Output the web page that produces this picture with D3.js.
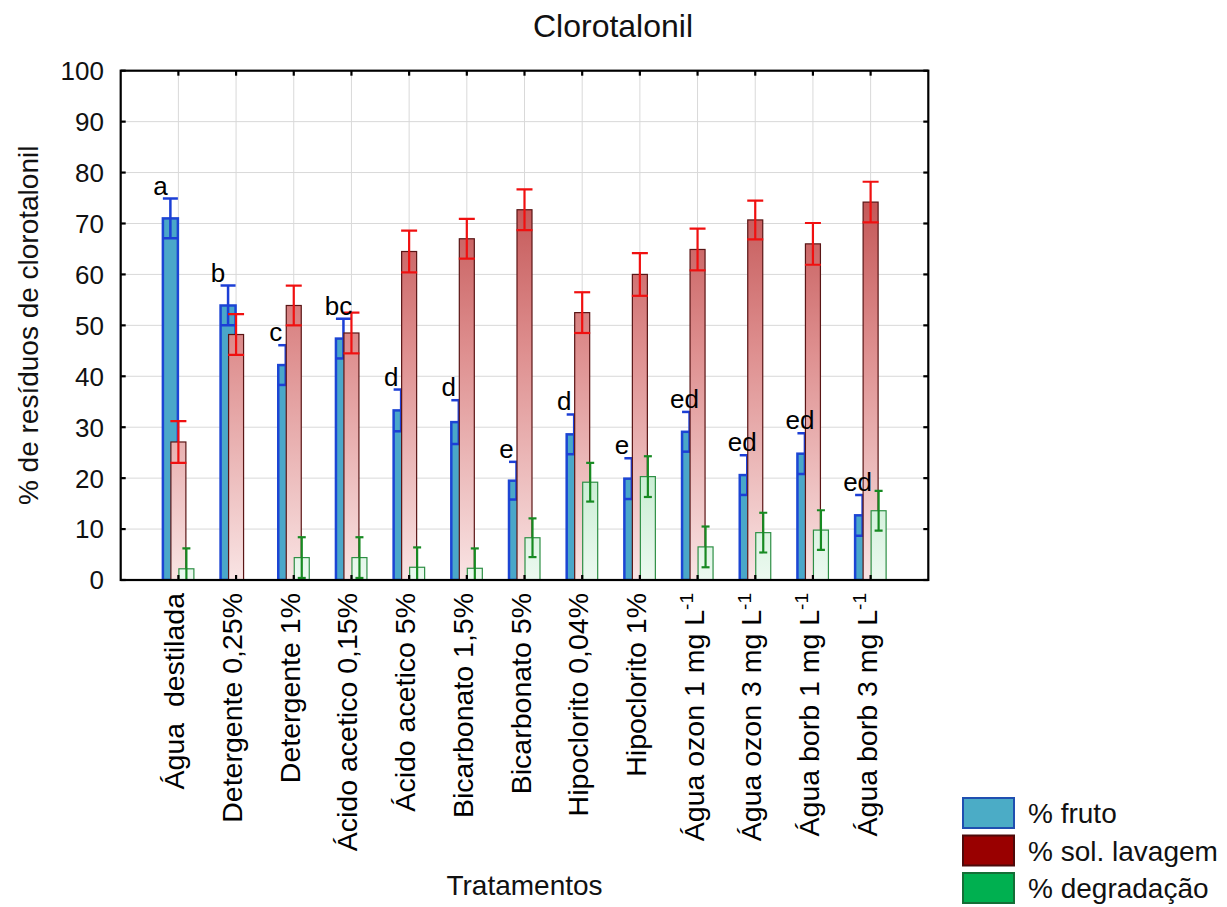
<!DOCTYPE html>
<html>
<head>
<meta charset="utf-8">
<script src="https://cdn.jsdelivr.net/npm/d3@7"></script>
<style>
  html, body { margin: 0; padding: 0; background: #fff; }
  svg { display: block; font-family: "Liberation Sans", Arial, sans-serif; }
</style>
</head>
<body>
<svg id="chart" width="1227" height="907"></svg>
<script>
// Treatments (x categories)
const categories = [
  "Água  destilada", "Detergente 0,25%", "Detergente 1%", "Ácido acetico 0,15%",
  "Ácido acetico 5%", "Bicarbonato 1,5%", "Bicarbonato 5%", "Hipoclorito 0,04%",
  "Hipoclorito 1%", "Água ozon 1 mg L-1", "Água ozon 3 mg L-1",
  "Água borb 1 mg L-1", "Água borb 3 mg L-1"
];

// % fruto
const frutoValues = [71.0, 53.9, 42.2, 47.4, 33.3, 31.0, 19.5, 28.6, 19.9, 29.1, 20.6, 24.8, 12.7];
const frutoErr    = [3.9, 3.9, 3.9, 3.9, 4.1, 4.3, 3.7, 3.9, 4.0, 3.9, 3.9, 4.0, 4.0];

// % sol. lavagem
const lavagemValues = [27.1, 48.2, 53.9, 48.5, 64.5, 67.0, 72.7, 52.5, 60.0, 64.9, 70.7, 66.0, 74.2];
const lavagemErr    = [4.1, 4.0, 3.9, 4.0, 4.1, 3.9, 4.0, 4.0, 4.2, 4.1, 3.8, 4.1, 4.0];

// % degradação
const degradValues = [2.2, 0, 4.4, 4.4, 2.5, 2.3, 8.3, 19.2, 20.3, 6.5, 9.3, 9.8, 13.6];
const degradErr    = [4.0, 0, 4.0, 4.0, 3.9, 3.9, 3.8, 3.8, 4.0, 4.0, 3.9, 3.9, 3.9];

// Significance letters for % fruto
const frutoLetters = ["a", "b", "c", "bc", "d", "d", "e", "d", "e", "ed", "ed", "ed", "ed"];

const seriesNames = ["% fruto", "% sol. lavagem", "% degradação"];
const yTicks = [0, 10, 20, 30, 40, 50, 60, 70, 80, 90, 100];

const svg = d3.select("#chart");
const plot = { left: 120.7, right: 928.3, top: 70.7, bottom: 580 };

const x = d3.scaleBand().domain(categories)
  .range([plot.left, plot.right]).paddingInner(0).paddingOuter(0.5);
const sub = d3.scalePoint().domain(seriesNames).range([-8, 8]);
const y = d3.scaleLinear().domain([0, 100]).range([plot.bottom, plot.top]);
const barW = 15;
const cx = c => x(c) + x.bandwidth() / 2;

// gradients anchored to the value axis
const defs = svg.append("defs");
function vGrad(id, stops) {
  const g = defs.append("linearGradient").attr("id", id)
    .attr("gradientUnits", "userSpaceOnUse")
    .attr("x1", 0).attr("x2", 0).attr("y1", y(0)).attr("y2", y(100));
  stops.forEach(s => g.append("stop").attr("offset", s[0]).attr("stop-color", s[1]));
}
vGrad("gradRed", [[0, "#f9e4e4"], [0.45, "#de8f8f"], [0.8, "#bf4d4d"], [1, "#a83030"]]);
vGrad("gradGreen", [[0, "#ecf9f0"], [0.25, "#c2ebcd"], [1, "#4cc479"]]);

// gridlines
const grid = svg.append("g");
grid.selectAll("line.h").data(yTicks.filter(t => t > 0 && t < 100)).join("line")
  .attr("x1", plot.left).attr("x2", plot.right)
  .attr("y1", d => y(d)).attr("y2", d => y(d))
  .attr("stroke", "#d9d9d9").attr("stroke-width", 1);
grid.selectAll("line.v").data(categories).join("line")
  .attr("x1", d => cx(d)).attr("x2", d => cx(d))
  .attr("y1", plot.top).attr("y2", plot.bottom)
  .attr("stroke", "#d9d9d9").attr("stroke-width", 1);

const clip = defs.append("clipPath").attr("id", "plotClip");
clip.append("rect").attr("x", plot.left).attr("y", plot.top)
  .attr("width", plot.right - plot.left).attr("height", plot.bottom - plot.top);

const marks = svg.append("g").attr("clip-path", "url(#plotClip)");

const series = [
  { name: seriesNames[0], values: frutoValues, err: frutoErr, fill: "#4aa7c9", stroke: "#1c45d4", sw: 2.5, errColor: "#1c3fd6", cap: 15, errW: 2.5 },
  { name: seriesNames[1], values: lavagemValues, err: lavagemErr, fill: "url(#gradRed)", stroke: "#5a1515", sw: 1.2, errColor: "#f01010", cap: 16, errW: 2.2 },
  { name: seriesNames[2], values: degradValues, err: degradErr, fill: "url(#gradGreen)", stroke: "#2e8f45", sw: 1.2, errColor: "#178a22", cap: 8, errW: 2.2 }
];

series.forEach(s => {
  const rows = categories.map((c, i) => ({ c, v: s.values[i], e: s.err[i] }));
  const g = marks.append("g");
  g.selectAll("rect").data(rows.filter(r => r.v > 0)).join("rect")
    .attr("x", d => cx(d.c) + sub(s.name) - barW / 2)
    .attr("y", d => y(d.v))
    .attr("width", barW)
    .attr("height", d => y(0) - y(d.v))
    .attr("fill", s.fill)
    .attr("stroke", s.stroke)
    .attr("stroke-width", s.sw);
  const eb = g.selectAll("g.err").data(rows.filter(r => r.e > 0)).join("g")
    .attr("stroke", s.errColor).attr("stroke-width", s.errW);
  eb.append("line")
    .attr("x1", d => cx(d.c) + sub(s.name)).attr("x2", d => cx(d.c) + sub(s.name))
    .attr("y1", d => y(d.v - d.e)).attr("y2", d => y(d.v + d.e));
  eb.append("line")
    .attr("x1", d => cx(d.c) + sub(s.name) - s.cap / 2).attr("x2", d => cx(d.c) + sub(s.name) + s.cap / 2)
    .attr("y1", d => y(d.v + d.e)).attr("y2", d => y(d.v + d.e));
  eb.append("line")
    .attr("x1", d => cx(d.c) + sub(s.name) - s.cap / 2).attr("x2", d => cx(d.c) + sub(s.name) + s.cap / 2)
    .attr("y1", d => y(d.v - d.e)).attr("y2", d => y(d.v - d.e));
});

// significance letters above the % fruto bars
svg.append("g").selectAll("text").data(categories).join("text")
  .attr("x", (c, i) => cx(c) + sub(seriesNames[0]) - 10 + 5 * (frutoLetters[i].length - 1))
  .attr("y", (c, i) => y(frutoValues[i] + frutoErr[i]) - 4)
  .attr("text-anchor", "middle")
  .attr("font-size", 26)
  .attr("fill", "#000")
  .text((c, i) => frutoLetters[i]);

// frame
svg.append("rect").attr("x", plot.left).attr("y", plot.top)
  .attr("width", plot.right - plot.left).attr("height", plot.bottom - plot.top)
  .attr("fill", "none").attr("stroke", "#000").attr("stroke-width", 2.2);

// inward ticks
const tickLen = 5;
const ticks = svg.append("g").attr("stroke", "#000").attr("stroke-width", 2.2);
ticks.selectAll("line.l").data(yTicks).join("line")
  .attr("x1", plot.left).attr("x2", plot.left + tickLen)
  .attr("y1", d => y(d)).attr("y2", d => y(d));
ticks.selectAll("line.r").data(yTicks).join("line")
  .attr("x1", plot.right).attr("x2", plot.right - tickLen)
  .attr("y1", d => y(d)).attr("y2", d => y(d));
ticks.selectAll("line.b").data(categories).join("line")
  .attr("x1", d => cx(d)).attr("x2", d => cx(d))
  .attr("y1", plot.bottom).attr("y2", plot.bottom - tickLen);
ticks.selectAll("line.t").data(categories).join("line")
  .attr("x1", d => cx(d)).attr("x2", d => cx(d))
  .attr("y1", plot.top).attr("y2", plot.top + tickLen);

// y tick labels
svg.append("g").selectAll("text").data(yTicks).join("text")
  .attr("x", 104).attr("y", d => y(d))
  .attr("dy", "0.36em")
  .attr("text-anchor", "end")
  .attr("font-size", 26)
  .attr("fill", "#111")
  .text(d => d);

// x category labels (rotated)
const xl = svg.append("g").selectAll("text").data(categories).join("text")
  .attr("transform", d => `translate(${cx(d) + 6},593) rotate(-90)`)
  .attr("text-anchor", "end")
  .attr("font-size", 28.5)
  .attr("fill", "#000")
  .style("white-space", "pre");
xl.each(function (d) {
  const t = d3.select(this);
  const m = d.match(/^(.*L)-1$/);
  if (m) {
    t.append("tspan").text(m[1]);
    t.append("tspan").attr("dy", "-0.55em").attr("font-size", 19).text("-1");
  } else {
    t.text(d);
  }
});

// titles
svg.append("text").attr("x", 613).attr("y", 37)
  .attr("text-anchor", "middle").attr("font-size", 32).attr("fill", "#111")
  .text("Clorotalonil");
svg.append("text").attr("x", (plot.left + plot.right) / 2).attr("y", 895)
  .attr("text-anchor", "middle").attr("font-size", 28).attr("fill", "#111")
  .text("Tratamentos");
svg.append("text")
  .attr("transform", `translate(38,${(plot.top + plot.bottom) / 2}) rotate(-90)`)
  .attr("text-anchor", "middle").attr("font-size", 28).attr("fill", "#111")
  .text("% de resíduos de clorotalonil");

// legend
const legendItems = [
  { name: seriesNames[0], fill: "#4bacc6", stroke: "#1f4fb0" },
  { name: seriesNames[1], fill: "#990000", stroke: "#4d0a0a" },
  { name: seriesNames[2], fill: "#00b050", stroke: "#146e36" }
];
const lg = svg.append("g").selectAll("g").data(legendItems).join("g")
  .attr("transform", (d, i) => `translate(963,${798 + i * 37.5})`);
lg.append("rect").attr("width", 51).attr("height", 30)
  .attr("fill", d => d.fill).attr("stroke", d => d.stroke).attr("stroke-width", 2);
lg.append("text").attr("x", 65).attr("y", 25)
  .attr("font-size", 28).attr("fill", "#111")
  .text(d => d.name);
</script>
</body>
</html>
